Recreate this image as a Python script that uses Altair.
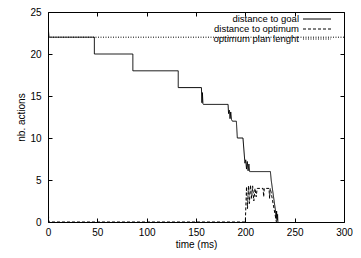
import altair as alt
import pandas as pd

# ---- data ----
goal_t = [0, 1, 47, 47, 86, 86, 132, 132, 155.5, 156, 156.5, 157, 157.5, 182.5, 183, 183.8, 184.5, 185.2, 186, 186.9,
          190.9, 191.9, 197.6, 199.6, 200.4, 201.2, 202, 202.8, 203.6, 204.4, 205.5, 225.4, 226.2, 230.5, 231.2, 231.7,
          232.2, 232.7, 233]
goal_v = [23.5, 22, 22, 20, 20, 18, 18, 16, 16, 14.2, 15.4, 14.1, 14, 14, 12.9, 13.3, 12.3, 13.1, 12.2, 12,
          12, 10, 10, 7.0, 7.4, 6.3, 7.2, 6.1, 6.9, 6.0, 6, 6, 5.0, 1.4, 0.4, 1.3, 0.2, 0.9, 0]

opt_t = [0, 0.8, 200, 201.2, 202.2, 203.2, 204.2, 205.2, 206.4, 207.4, 208.6, 209.8, 211, 212, 218, 218.6, 219.2,
         224, 224.6, 225.2, 226, 231.5]
opt_v = [2, 0, 0, 4.2, 1.6, 4.3, 2.2, 4.4, 2.8, 4.3, 2.5, 4.0, 3.0, 4, 4, 3.0, 4, 4, 2.8, 4, 3.6, 0]

plan_t = [0, 300]
plan_v = [22, 22]

series_names = ["distance to goal", "distance to optimum", "optimum plan lenght"]
x_ticks = [0, 50, 100, 150, 200, 250, 300]
y_ticks = [0, 5, 10, 15, 20, 25]

rows = []
for name, ts, vs in zip(series_names, [goal_t, opt_t, plan_t], [goal_v, opt_v, plan_v]):
    for i, (t, v) in enumerate(zip(ts, vs)):
        rows.append({"series": name, "t": t, "v": v, "i": i})
df = pd.DataFrame(rows)

FONT = "Liberation Sans"
dashes = [[1, 0], [3, 2], [1, 1.5]]

W, H = 296, 210

xscale = alt.Scale(domain=[0, 300], nice=False, zero=False)
yscale = alt.Scale(domain=[0, 25], nice=False)

lines = alt.Chart(df).mark_line(color="black", strokeWidth=1, clip=True).encode(
    x=alt.X("t:Q", scale=xscale,
            axis=alt.Axis(values=x_ticks, tickSize=4, offset=-4, domain=False, labelPadding=5,
                          labelFlush=False, labelOverlap=False, title="time (ms)", titlePadding=2, grid=False)),
    y=alt.Y("v:Q", scale=yscale,
            axis=alt.Axis(values=y_ticks, tickSize=4, offset=-4, domain=False, labelPadding=7,
                          labelFlush=False, labelOverlap=False, title="nb. actions", titlePadding=3, grid=False)),
    strokeDash=alt.StrokeDash("series:N", scale=alt.Scale(domain=series_names, range=dashes), legend=None),
    detail="series:N",
    order="i:Q",
)

mirror = alt.Chart(df).mark_point(opacity=0).encode(
    x=alt.X("t:Q", scale=xscale,
            axis=alt.Axis(orient="top", values=x_ticks, tickSize=4, offset=-4, domain=False, labels=False,
                          title=None, grid=False)),
    y=alt.Y("v:Q", scale=yscale,
            axis=alt.Axis(orient="right", values=y_ticks, tickSize=4, offset=-4, domain=False, labels=False,
                          title=None, grid=False)),
)

one = pd.DataFrame({"k": [0]})
legend_layers = []
row_y = [7, 17, 27]
for name, d, ry in zip(series_names, dashes, row_y):
    legend_layers.append(
        alt.Chart(one).mark_text(align="right", baseline="middle", font=FONT, fontSize=9.5, color="black",
                                 text=name).encode(x=alt.value(W - 45), y=alt.value(ry))
    )
    legend_layers.append(
        alt.Chart(one).mark_rule(color="black", strokeWidth=1, strokeDash=d).encode(
            x=alt.value(W - 41), x2=alt.value(W - 13), y=alt.value(ry))
    )

chart = alt.layer(lines, mirror, *legend_layers).resolve_axis(
    x="independent", y="independent"
).properties(
    width=W, height=H,
    autosize=alt.AutoSizeParams(type="none"),
    padding={"left": 40, "top": 4, "right": 345 - 40 - W, "bottom": 242 - 4 - H},
    background="white",
).configure_view(
    stroke="black", strokeWidth=1
).configure_axis(
    labelFont=FONT, titleFont=FONT, labelFontSize=10, titleFontSize=10, titleFontWeight="normal",
    labelColor="black", titleColor="black", tickColor="black", tickWidth=1,
)

chart.save("out.html", embed_options={"renderer": "svg", "actions": False})
